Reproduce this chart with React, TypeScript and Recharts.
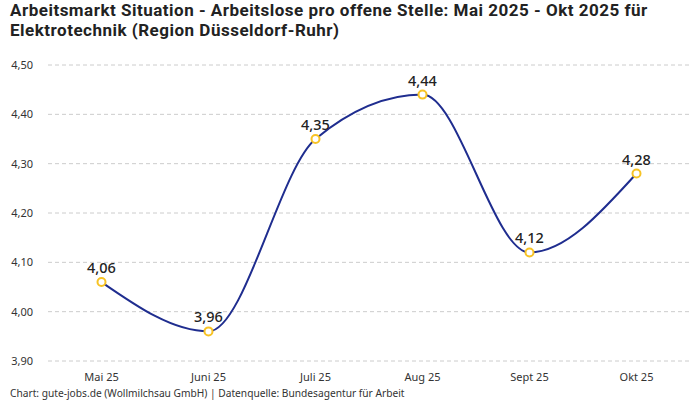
import { LineChart, Line, XAxis, YAxis, CartesianGrid, LabelList } from "recharts";

const months = ["Mai 25", "Juni 25", "Juli 25", "Aug 25", "Sept 25", "Okt 25"];
const ratio = [4.06, 3.96, 4.35, 4.44, 4.12, 4.28];
const yTicks = [3.9, 4.0, 4.1, 4.2, 4.3, 4.4, 4.5];

const data = months.map((month, i) => ({ month, ratio: ratio[i] }));

const FONT = "'Noto Sans', Roboto, sans-serif";
const fmt = (v: number) => v.toFixed(2).replace(".", ",");

export default function App() {
  return (
    <div
      style={{
        position: "absolute",
        left: 0,
        top: 0,
        width: 700,
        height: 400,
        background: "#fff",
        fontFamily: FONT,
      }}
    >
      <div style={{ position: "absolute", top: 0, left: 0 }}>
        <LineChart
          width={700}
          height={400}
          data={data}
          margin={{ top: 65, right: 10, bottom: 0, left: 0 }}
        >
          <CartesianGrid
            horizontal
            vertical={false}
            stroke="#cccccc"
            strokeDasharray="4 3"
          />
          <XAxis
            dataKey="month"
            axisLine={false}
            tickLine={false}
            padding={{ left: 53.5, right: 53.5 }}
            tick={{ fontSize: 11, fill: "#333", fontFamily: FONT }}
            tickMargin={6}
            height={39}
          />
          <YAxis
            domain={[3.9, 4.5]}
            ticks={yTicks}
            axisLine={false}
            tickLine={false}
            tickSize={0}
            tickMargin={15}
            width={48}
            tickFormatter={fmt}
            tick={{ fontSize: 11, fill: "#333", fontFamily: FONT }}
          />
          <Line
            type="monotone"
            dataKey="ratio"
            stroke="#1f2d8f"
            strokeWidth={2}
            dot={{ r: 4, stroke: "#f7c325", strokeWidth: 2, fill: "#fff" }}
            activeDot={false}
            isAnimationActive={false}
          >
            <LabelList
              dataKey="ratio"
              position="top"
              offset={9}
              formatter={(v: number) => fmt(v)}
              style={{ fontSize: 14.5, fontWeight: 500, fill: "#222", fontFamily: FONT }}
            />
          </Line>
        </LineChart>
      </div>
      <div
        style={{
          position: "absolute",
          left: 10,
          top: 0,
          fontFamily: "Roboto, sans-serif",
          fontSize: 17,
          fontWeight: 700,
          lineHeight: "20px",
          letterSpacing: 0.5,
          color: "#222",
          whiteSpace: "nowrap",
        }}
      >
        <div>Arbeitsmarkt Situation - Arbeitslose pro offene Stelle: Mai 2025 - Okt 2025 für</div>
        <div>Elektrotechnik (Region Düsseldorf-Ruhr)</div>
      </div>
      <div
        style={{
          position: "absolute",
          left: 10,
          top: 386,
          fontSize: 10.2,
          color: "#333",
          whiteSpace: "nowrap",
        }}
      >
        Chart: gute-jobs.de (Wollmilchsau GmbH) | Datenquelle: Bundesagentur für Arbeit
      </div>
    </div>
  );
}
